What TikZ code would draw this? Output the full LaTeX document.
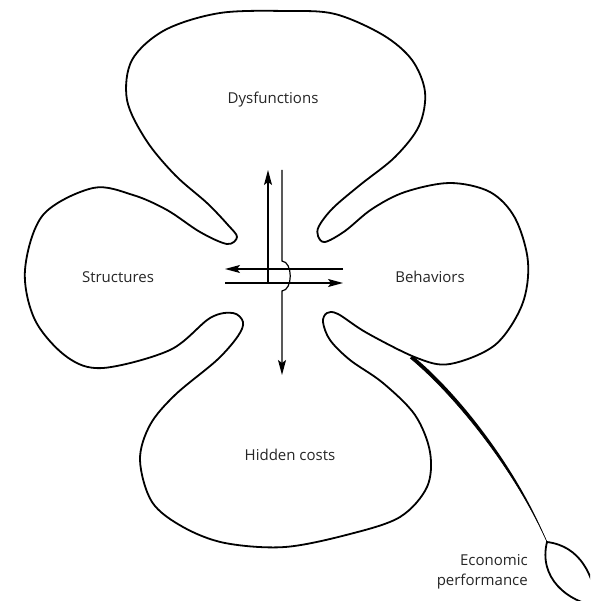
\documentclass[tikz,border=0pt]{standalone}
\usepackage{fontspec}
\setmainfont{Open Sans}
\usetikzlibrary{arrows.meta}
\begin{document}
\begin{tikzpicture}[x=1pt,y=-1pt,
  outline/.style={line width=1.8pt, line join=round},
  arr/.style={line width=1.2pt, -{Stealth[length=15pt,width=8pt,inset=3pt]}},
  lbl/.style={font=\fontsize{15}{20}\selectfont, text=black!85, inner sep=0pt}]
\useasboundingbox (0,0) rectangle (590,601);
\fill[white] (0,0) rectangle (590,601);
% clover outline
\draw[outline] plot[smooth cycle, tension=0.55] coordinates {
 (287,11) (335,14) (383,35) (412,60) (425,92) (419,126) (395,157) (360,185)
 (333,208) (319,226) (318,236) (325,242) (345,231) (372,209) (405,192) (450,183)
 (490,192) (515,218) (528,262) (522,305) (495,345) (450,364) (417,358) (367,333)
 (338,314) (327,313) (323,322) (330,340) (350,360) (383,383) (415,415) (430,452)
 (427,487) (400,517) (350,534) (285,547) (225,543) (183,527) (152,502) (140,460)
 (150,425) (175,395) (217,360) (238,336) (243,322) (233,313) (210,318) (170,350)
 (103,368) (67,357) (35,320) (25,270) (43,215) (93,188) (133,195) (167,210)
 (200,232) (227,244) (237,237) (228,225) (207,203) (175,175) (146,140) (127,100)
 (132,60) (165,30) (220,13)};
% stem
\coordinate (stemTop) at (410,358);
\coordinate (stemEnd) at (547,542);
\fill (stemTop) .. controls (455,395) and (515,470) .. (stemEnd)
      .. controls (517,468) and (458,393) .. (413,356) -- cycle;
\draw[line width=0.6pt] (stemTop) .. controls (455,395) and (515,470) .. (stemEnd);
% leaf
\begin{scope}
\clip (0,0) rectangle (590,601);
\draw[line width=1.8pt] (stemEnd) .. controls (580,546) and (594,575) .. (597,606)
   .. controls (568,602) and (538,578) .. (stemEnd) -- cycle;
\end{scope}
% labels
\node[lbl] (dys) at (273,100) {Dysfunctions};
\node[lbl] (str) at (118,277) {Structures};
\node[lbl] (beh) at (430,277) {Behaviors};
\node[lbl] (hid) at (290,455) {Hidden costs};
\node[lbl, align=right, anchor=east] (eco) at (528,572) {Economic\\performance};
% arrows
\coordinate (upS) at (268,283);
\coordinate (upE) at (268,170);
\coordinate (lfS) at (343,269);
\coordinate (lfE) at (225,269);
\coordinate (rtS) at (225,283);
\coordinate (rtE) at (343,283);
\coordinate (dnS) at (282,170);
\coordinate (dnA) at (282,261);
\coordinate (dnB) at (282,291);
\coordinate (dnE) at (282,375);
\draw[arr] (upS) -- (upE);
\draw[arr] (lfS) -- (lfE);
\draw[arr] (rtS) -- (rtE);
\draw[arr] (dnS) -- (dnA) .. controls (293,262) and (293,290) .. (dnB) -- (dnE);
\end{tikzpicture}
\end{document}
